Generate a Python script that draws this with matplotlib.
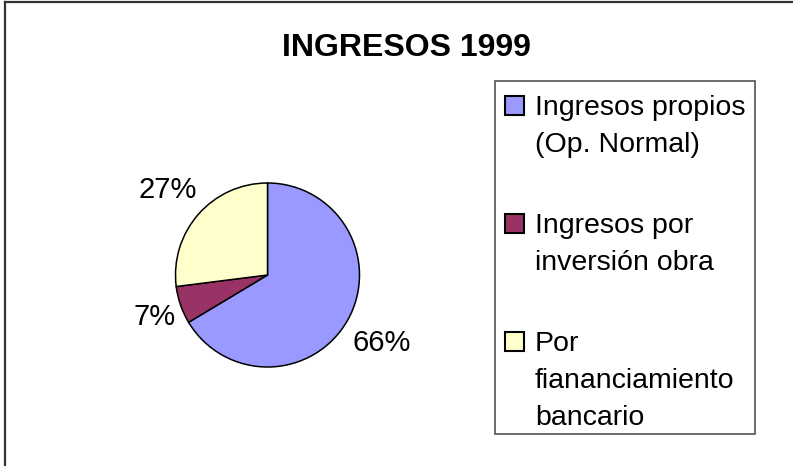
import numpy as np
import matplotlib
matplotlib.use('Agg')
import matplotlib.pyplot as plt
import matplotlib.patches as patches
from matplotlib.lines import Line2D

plt.rcParams['font.family'] = ['Liberation Sans', 'DejaVu Sans']

# datos
TITLE = "INGRESOS 1999"
labels = ["Ingresos propios\n(Op. Normal)",
          "Ingresos por\ninversión obra",
          "Por\nfiananciamiento\nbancario"]
values = [66.4, 6.6, 27.0]
colors = ['#9999FF', '#993366', '#FFFFCC']
label_dist = [1.43, 1.30, 1.45]   # distancia de las etiquetas (en radios)

W, H = 793, 466
def fx(px):
    return px / W
def fy(py):
    return 1 - py / H

fig = plt.figure(figsize=(W / 100, H / 100), dpi=100)
fig.patch.set_facecolor('white')

# marco exterior (solo se ven arriba e izquierda)
fig.add_artist(Line2D([fx(5), fx(5)], [fy(2), fy(470)], color='#333333', lw=1.6))
fig.add_artist(Line2D([fx(5), fx(800)], [fy(2), fy(2)], color='#333333', lw=1.6))

# titulo
fig.text(fx(406), fy(56), TITLE, ha='center', va='baseline',
         fontsize=23, fontweight='bold')

# pastel
R = 92.0
size = 300
ax = fig.add_axes([fx(267.5 - size / 2), fy(275 + size / 2), size / W, size / H])
wedges, _ = ax.pie(values, colors=colors, startangle=90, counterclock=False,
                   radius=1, wedgeprops=dict(edgecolor='black', linewidth=1.1))
lim = size / 2 / R
ax.set_xlim(-lim, lim)
ax.set_ylim(-lim, lim)
ax.axis('off')

for w, v, d in zip(wedges, values, label_dist):
    ang = np.deg2rad((w.theta1 + w.theta2) / 2)
    ax.text(d * np.cos(ang), d * np.sin(ang), f"{round(v)}%",
            ha='center', va='center_baseline', fontsize=21)

# leyenda (dibujada a mano para alinear el cuadro con la primera linea)
fig.add_artist(patches.Rectangle((fx(495), fy(434)), (755 - 495) / W, (434 - 81) / H,
                                 transform=fig.transFigure, facecolor='white',
                                 edgecolor='#444444', linewidth=1.1))
for i, (lab, col) in enumerate(zip(labels, colors)):
    base = 115 + 118 * i
    fig.add_artist(patches.Rectangle((fx(505), fy(base)), 19 / W, 19 / H,
                                     transform=fig.transFigure, facecolor=col,
                                     edgecolor='black', linewidth=1.5))
    for j, line in enumerate(lab.split('\n')):
        fig.text(fx(535), fy(base + 37 * j), line, ha='left', va='baseline',
                 fontsize=20.5)

plt.savefig('out.png', dpi=100)
